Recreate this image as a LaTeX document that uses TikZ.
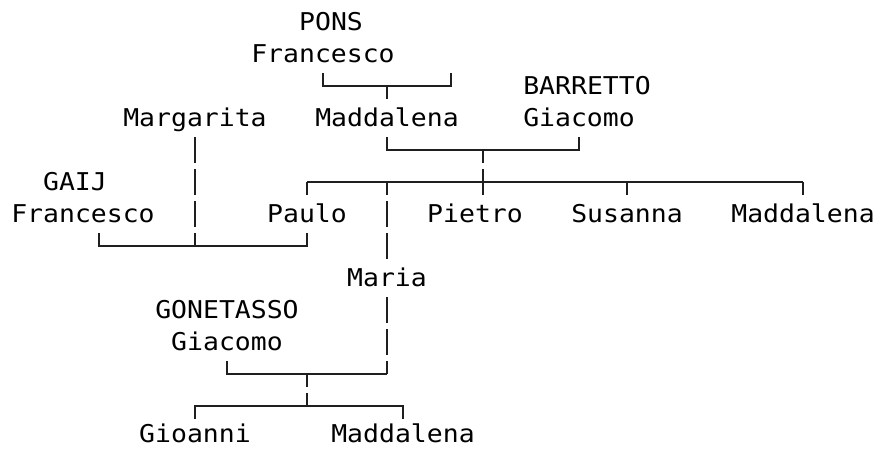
\documentclass[tikz,border=0pt]{standalone}
\usepackage{fontspec}
\newfontfamily\treemono[FakeStretch=1.08]{DejaVu Sans Mono}
\begin{document}
\begin{tikzpicture}[x=1pt,y=-1pt,
  lbl/.style={anchor=base, inner sep=0pt, font=\treemono\fontsize{24.5}{30}\selectfont, text=black},
  conn/.style={line width=2pt, draw=black!88, line join=miter},
  bar/.style={conn, dash pattern=on 26pt off 6pt},
  halfbar/.style={bar, dash phase=13pt}]
\useasboundingbox (0,0) rectangle (877,448);
% ---- names
\node[lbl] (pons)      at (331,30.5)  {PONS};
\node[lbl] (fpons)     at (323,62.5)  {Francesco};
\node[lbl] (barretto)  at (587,94.5)  {BARRETTO};
\node[lbl] (margarita) at (195,126.5) {Margarita};
\node[lbl] (maddA)     at (387,126.5) {Maddalena};
\node[lbl] (giacA)     at (579,126.5) {Giacomo};
\node[lbl] (gaij)      at (75,190.5)  {GAIJ};
\node[lbl] (fgaij)     at (83,222.5)  {Francesco};
\node[lbl] (paulo)     at (307,222.5) {Paulo};
\node[lbl] (pietro)    at (475,222.5) {Pietro};
\node[lbl] (susanna)   at (627,222.5) {Susanna};
\node[lbl] (maddB)     at (803,222.5) {Maddalena};
\node[lbl] (maria)     at (387,286.5) {Maria};
\node[lbl] (gonet)     at (227,318.5) {GONETASSO};
\node[lbl] (giacB)     at (227,350.5) {Giacomo};
\node[lbl] (gioanni)   at (195,442) {Gioanni};
\node[lbl] (maddC)     at (403,442) {Maddalena};
% ---- junction points
\coordinate (a1) at (323,73);  \coordinate (a2) at (323,86);
\coordinate (a3) at (451,86);  \coordinate (a4) at (451,73);
\coordinate (a5) at (387,86);  \coordinate (a6) at (387,99);
\coordinate (b1) at (387,137); \coordinate (b2) at (387,150);
\coordinate (b3) at (579,150); \coordinate (b4) at (579,137);
\coordinate (b5) at (483,150); \coordinate (b6) at (483,195);
\coordinate (c1) at (307,182); \coordinate (c2) at (307,195);
\coordinate (c3) at (387,182); \coordinate (c4) at (387,259);
\coordinate (c5) at (627,182); \coordinate (c6) at (627,195);
\coordinate (c7) at (803,182); \coordinate (c8) at (803,195);
\coordinate (m1) at (195,137); \coordinate (m2) at (195,246);
\coordinate (d1) at (99,233);  \coordinate (d2) at (99,246);
\coordinate (d3) at (307,246); \coordinate (d4) at (307,233);
\coordinate (e1) at (387,297); \coordinate (e2) at (387,374);
\coordinate (e3) at (227,361); \coordinate (e4) at (227,374);
\coordinate (e5) at (307,374); \coordinate (e6) at (307,406);
\coordinate (f1) at (195,419); \coordinate (f2) at (195,406);
\coordinate (f3) at (403,406); \coordinate (f4) at (403,419);
% ---- connectors
\draw[conn] (a1) -- (a2) -- (a3) -- (a4);
\draw[conn] (a5) -- (a6);
\draw[conn] (b1) -- (b2) -- (b3) -- (b4);
\draw[halfbar] (b5) -- (b6);
\draw[conn] (c1) -- (c7);
\draw[conn] (c1) -- (c2);
\draw[halfbar] (c3) -- (c4);
\draw[conn] (c5) -- (c6);
\draw[conn] (c7) -- (c8);
\draw[bar] (m1) -- (m2);
\draw[conn] (d1) -- (d2) -- (d3) -- (d4);
\draw[bar] (e1) -- (e2);
\draw[conn] (e3) -- (e4) -- (e2);
\draw[halfbar] (e5) -- (e6);
\draw[conn] (f1) -- (f2) -- (f3) -- (f4);
\end{tikzpicture}
\end{document}
